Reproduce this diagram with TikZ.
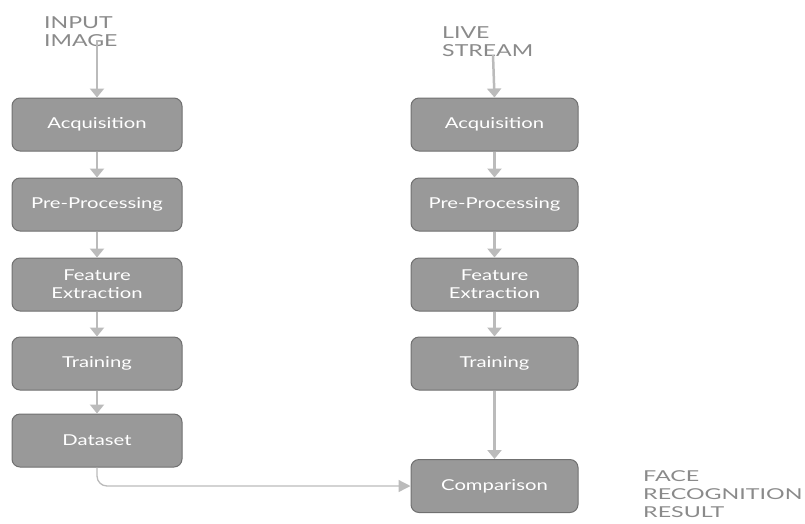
\documentclass[tikz,border=0pt]{standalone}
\usepackage{fontspec}
\setmainfont{Lato}
\newfontfamily\widefont[FakeStretch=1.35]{Lato}
\newfontfamily\widelbl[FakeStretch=1.4]{Lato}
\newfontfamily\widerlbl[FakeStretch=1.55]{Lato}
\usetikzlibrary{arrows.meta}
\definecolor{boxfill}{HTML}{999999}
\definecolor{boxline}{HTML}{707070}
\definecolor{arrowc}{HTML}{BBBBBB}
\definecolor{labelc}{HTML}{8A8A8A}
\begin{document}
\begin{tikzpicture}[x=1pt,y=-1pt,
  stepbox/.style={draw=boxline,line width=1pt,fill=boxfill,rounded corners=8pt,
    minimum width=170pt,minimum height=53pt,text=white,font=\widefont\fontsize{15}{18}\selectfont,align=center,inner sep=0pt},
  flow/.style={draw=arrowc,line width=2.5pt,-{Triangle[length=9pt,width=14pt]}},
  thin flow/.style={draw=arrowc,line width=1.3pt,-{Triangle[length=12pt,width=12pt]},rounded corners=10pt},
  lbl/.style={text=labelc,font=\widelbl\fontsize{16.5}{18.5}\selectfont,align=left,anchor=north west,inner sep=0pt}]
\useasboundingbox (0,0) rectangle (805,523);
% left column
\node[stepbox] (la) at (97,124.5) {Acquisition};
\node[stepbox] (lp) at (97,204.5) {Pre-Processing};
\node[stepbox] (lf) at (97,284.5) {Feature\\Extraction};
\node[stepbox] (lt) at (97,363.5) {Training};
\node[stepbox] (ld) at (97,440.5) {Dataset};
% right column
\node[stepbox,minimum width=167pt] (ra) at (494.5,124.5) {Acquisition};
\node[stepbox,minimum width=167pt] (rp) at (494.5,204.5) {Pre-Processing};
\node[stepbox,minimum width=167pt] (rf) at (494.5,284.5) {Feature\\Extraction};
\node[stepbox,minimum width=167pt] (rt) at (494.5,363.5) {Training};
\node[stepbox,minimum width=167pt] (rc) at (494.5,486) {Comparison};
% labels
\node[lbl] (in) at (44,16) {INPUT\\IMAGE};
\node[lbl] (ls) at (442,26) {LIVE\\STREAM};
\node[lbl,font=\widerlbl\fontsize{15}{18}\selectfont] (fr) at (643,470) {FACE\\RECOGNITION\\RESULT};
\coordinate (inb) at (97,40);
\coordinate (lsb) at (493,55);
% arrows
\draw[flow] (inb) -- (la.north);
\draw[flow] (la) -- (lp);
\draw[flow] (lp) -- (lf);
\draw[flow] (lf) -- (lt);
\draw[flow] (lt) -- (ld);
\draw[flow] (lsb) -- (ra.north);
\draw[flow] (ra) -- (rp);
\draw[flow] (rp) -- (rf);
\draw[flow] (rf) -- (rt);
\draw[flow] (rt) -- (rc);
\draw[thin flow] (ld.south) |- (rc.west);
\end{tikzpicture}
\end{document}
